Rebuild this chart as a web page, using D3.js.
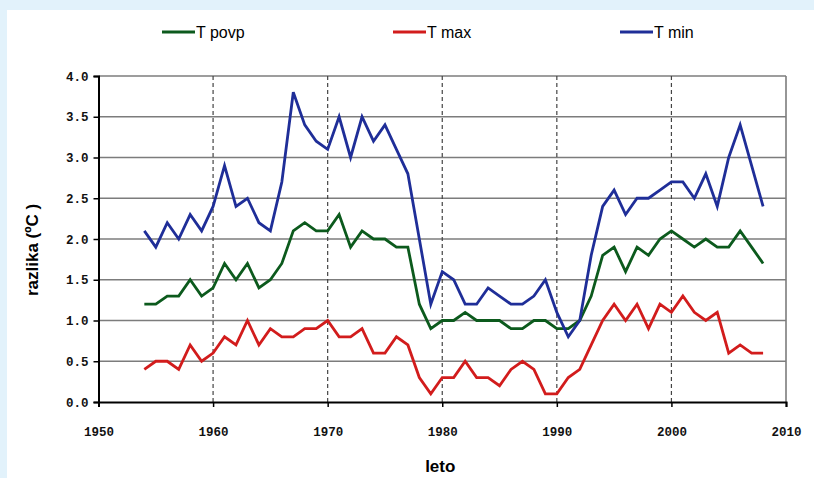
<!DOCTYPE html>
<html lang="sl">

<head>
  <meta charset="utf-8">
  <title>Razlika temperatur</title>
  <script src="https://d3js.org/d3.v7.min.js"></script>
  <style>
    html, body { margin: 0; padding: 0; background: #e2f2fb; }
    svg { display: block; }
  </style>
</head>

<body>
  <script>
    var years = d3.range(1954, 2009);
    var tPovp = [1.2, 1.2, 1.3, 1.3, 1.5, 1.3, 1.4, 1.7, 1.5, 1.7, 1.4, 1.5, 1.7, 2.1, 2.2, 2.1, 2.1, 2.3, 1.9, 2.1,
      2.0, 2.0, 1.9, 1.9, 1.2, 0.9, 1.0, 1.0, 1.1, 1.0, 1.0, 1.0, 0.9, 0.9, 1.0, 1.0, 0.9, 0.9, 1.0, 1.3,
      1.8, 1.9, 1.6, 1.9, 1.8, 2.0, 2.1, 2.0, 1.9, 2.0, 1.9, 1.9, 2.1, 1.9, 1.7];
    var tMax = [0.4, 0.5, 0.5, 0.4, 0.7, 0.5, 0.6, 0.8, 0.7, 1.0, 0.7, 0.9, 0.8, 0.8, 0.9, 0.9, 1.0, 0.8, 0.8, 0.9,
      0.6, 0.6, 0.8, 0.7, 0.3, 0.1, 0.3, 0.3, 0.5, 0.3, 0.3, 0.2, 0.4, 0.5, 0.4, 0.1, 0.1, 0.3, 0.4, 0.7,
      1.0, 1.2, 1.0, 1.2, 0.9, 1.2, 1.1, 1.3, 1.1, 1.0, 1.1, 0.6, 0.7, 0.6, 0.6];
    var tMin = [2.1, 1.9, 2.2, 2.0, 2.3, 2.1, 2.4, 2.9, 2.4, 2.5, 2.2, 2.1, 2.7, 3.8, 3.4, 3.2, 3.1, 3.5, 3.0, 3.5,
      3.2, 3.4, 3.1, 2.8, 2.0, 1.2, 1.6, 1.5, 1.2, 1.2, 1.4, 1.3, 1.2, 1.2, 1.3, 1.5, 1.1, 0.8, 1.0, 1.8,
      2.4, 2.6, 2.3, 2.5, 2.5, 2.6, 2.7, 2.7, 2.5, 2.8, 2.4, 3.0, 3.4, 2.9, 2.4];
    var seriesNames = ["T povp", "T max", "T min"];
    var yTicks = [0, 0.5, 1, 1.5, 2, 2.5, 3, 3.5, 4];
    var xTicks = [1950, 1960, 1970, 1980, 1990, 2000, 2010];

    var series = [
      { name: seriesNames[0], values: tPovp, color: "#0c5a1d" },
      { name: seriesNames[1], values: tMax, color: "#d21c1c" },
      { name: seriesNames[2], values: tMin, color: "#1f2e98" }
    ];

    var w = 814;
    var h = 478;
    var margin = { top: 76, left: 98.5, right: 28, bottom: 76 };
    var width = w - margin.left - margin.right;
    var height = h - margin.top - margin.bottom;

    var x = d3.scaleLinear().domain([1950, 2010]).range([0, width]);
    var y = d3.scaleLinear().domain([0, 4]).range([height, 0]);

    var svg = d3.select("body").append("svg")
      .attr("width", w)
      .attr("height", h);

    // white panel on light blue page
    svg.append("rect")
      .attr("x", 7).attr("y", 10)
      .attr("width", w - 7).attr("height", h - 10)
      .attr("fill", "#ffffff");

    var g = svg.append("g")
      .attr("transform", "translate(" + margin.left + "," + margin.top + ")");

    // horizontal grid
    g.selectAll(".hgrid")
      .data(yTicks.slice(1))
      .enter().append("line")
      .attr("x1", 0).attr("x2", width)
      .attr("y1", function (d) { return y(d); })
      .attr("y2", function (d) { return y(d); })
      .attr("stroke", "#7c7c7c")
      .attr("stroke-width", 1.6);

    // vertical dashed grid
    g.selectAll(".vgrid")
      .data(xTicks.slice(1, -1))
      .enter().append("line")
      .attr("x1", function (d) { return x(d); })
      .attr("x2", function (d) { return x(d); })
      .attr("y1", 0).attr("y2", height)
      .attr("stroke", "#444")
      .attr("stroke-width", 1.2)
      .attr("stroke-dasharray", "4,3");

    // right border
    g.append("line")
      .attr("x1", width).attr("x2", width)
      .attr("y1", 0).attr("y2", height)
      .attr("stroke", "#7c7c7c")
      .attr("stroke-width", 1.6);

    // lines
    var line = d3.line()
      .x(function (d, i) { return x(years[i]); })
      .y(function (d) { return y(d); });

    g.selectAll(".series")
      .data(series)
      .enter().append("path")
      .attr("d", function (s) { return line(s.values); })
      .attr("fill", "none")
      .attr("stroke", function (s) { return s.color; })
      .attr("stroke-width", 2.8)
      .attr("stroke-linejoin", "miter");

    // axes
    var yAxis = d3.axisLeft(y)
      .tickValues(yTicks)
      .tickSize(5)
      .tickPadding(5)
      .tickFormat(d3.format(".1f"));
    var xAxis = d3.axisBottom(x)
      .tickValues(xTicks)
      .tickSize(5)
      .tickPadding(20)
      .tickFormat(d3.format("d"));

    var ya = g.append("g").call(yAxis);
    var xa = g.append("g").attr("transform", "translate(0," + height + ")").call(xAxis);

    [ya, xa].forEach(function (a) {
      a.select(".domain").attr("stroke", "#000").attr("stroke-width", 2);
      a.selectAll(".tick line").attr("stroke", "#000").attr("stroke-width", 1.5);
      a.selectAll(".tick text")
        .attr("fill", "#111")
        .style("font-family", "'Liberation Mono', 'DejaVu Sans Mono', monospace")
        .style("font-weight", "bold")
        .style("font-size", "12.5px");
    });

    // axis titles
    svg.append("text")
      .attr("transform", "translate(38,250) rotate(-90)")
      .attr("text-anchor", "middle")
      .style("font-family", "'Liberation Sans', Arial, sans-serif")
      .style("font-weight", "bold")
      .style("font-size", "17px")
      .text("razlika (ºC )");

    svg.append("text")
      .attr("x", margin.left + x(1980) - 2)
      .attr("y", 472)
      .attr("text-anchor", "middle")
      .style("font-family", "'Liberation Sans', Arial, sans-serif")
      .style("font-weight", "bold")
      .style("font-size", "17px")
      .text("leto");

    // legend
    var legendX = [162, 393, 620];
    var legend = svg.selectAll(".legend")
      .data(series)
      .enter().append("g")
      .attr("transform", function (s, i) { return "translate(" + legendX[i] + ",32)"; });
    legend.append("line")
      .attr("x1", 0).attr("x2", 33)
      .attr("stroke", function (s) { return s.color; })
      .attr("stroke-width", 3);
    legend.append("text")
      .attr("x", 34).attr("y", 6)
      .style("font-family", "'Liberation Sans', Arial, sans-serif")
      .style("font-size", "16px")
      .text(function (s) { return s.name; });
  </script>
</body>

</html>
